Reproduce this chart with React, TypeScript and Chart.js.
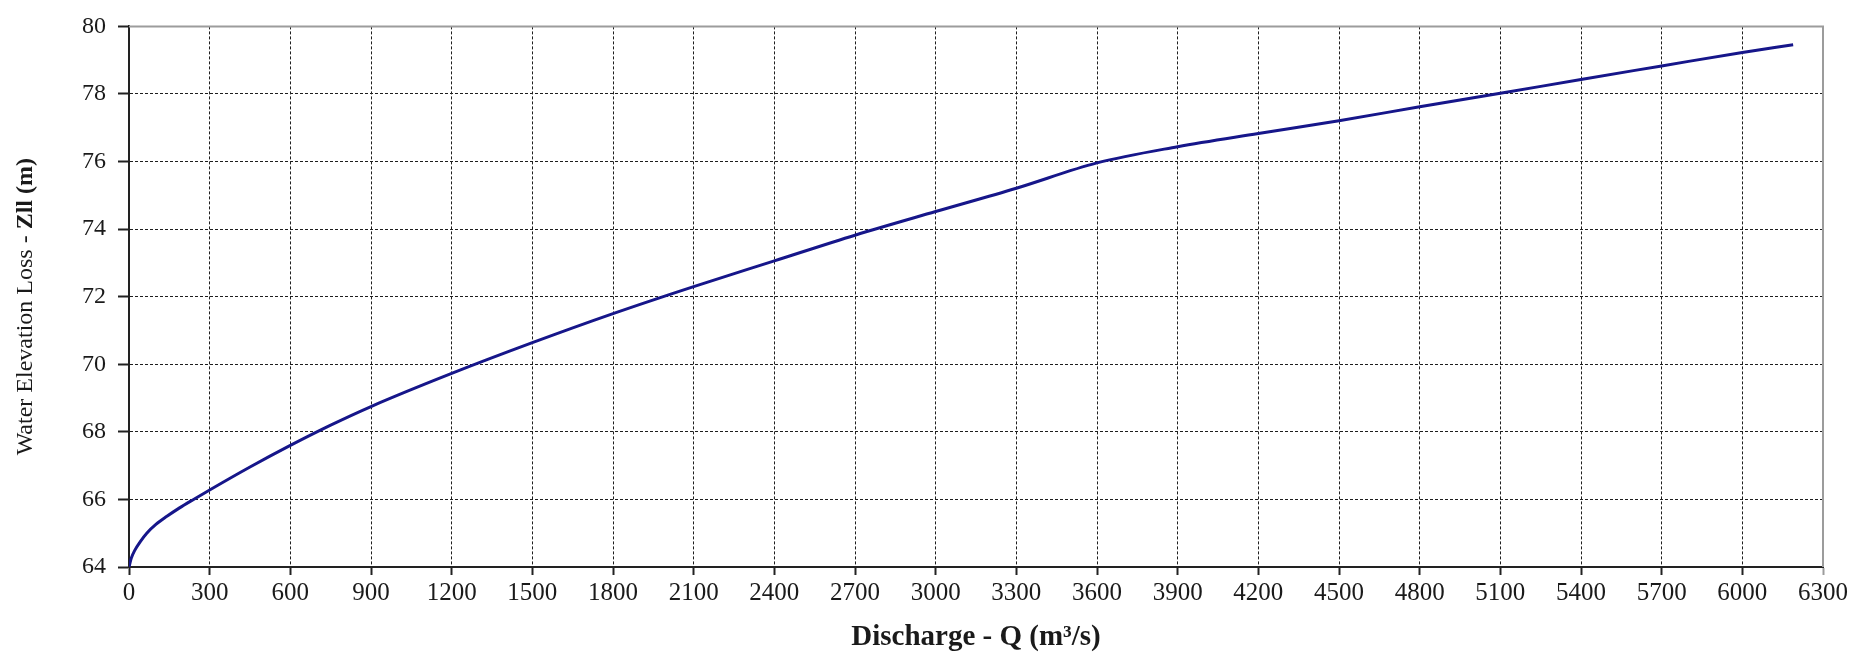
import React, { useEffect, useRef } from "react";
import { Chart, registerables } from "chart.js";

Chart.register(...registerables);

const discharge = [0, 8, 22, 42, 66, 100, 141, 188, 240, 300, 450, 600, 750, 900, 1200, 1500, 1800, 2100, 2400, 2700, 3000, 3300, 3600, 3900, 4200, 4500, 4800, 5100, 5400, 5700, 6000, 6189];
const elevation = [64, 64.25, 64.5, 64.75, 65, 65.26, 65.5, 65.75, 66, 66.28, 66.96, 67.6, 68.2, 68.75, 69.73, 70.64, 71.5, 72.3, 73.06, 73.82, 74.52, 75.21, 75.96, 76.44, 76.83, 77.21, 77.62, 78.02, 78.43, 78.83, 79.23, 79.46];

const xMin = 0;
const xMax = 6300;
const xStep = 300;
const yMin = 64;
const yMax = 80;
const yStep = 2;

const xTitle = "Discharge - Q (m³/s)";
const yTitleNormal = "Water Elevation Loss - ";
const yTitleBold = "Zll (m)";

const FONT = "'Liberation Serif', 'Times New Roman', serif";

const frameAndTitlePlugin = {
  id: "frameAndTitle",
  afterDraw(chart: any) {
    const { ctx, chartArea } = chart;
    const { left, right, top, bottom } = chartArea;
    ctx.save();
    ctx.strokeStyle = "#9c9c9c";
    ctx.lineWidth = 2;
    ctx.setLineDash([]);
    ctx.beginPath();
    ctx.moveTo(left, top);
    ctx.lineTo(right, top);
    ctx.lineTo(right, bottom);
    ctx.stroke();

    // y-axis title with mixed weight
    const normalFont = `24px ${FONT}`;
    const boldFont = `bold 24px ${FONT}`;
    ctx.font = normalFont;
    const w1 = ctx.measureText(yTitleNormal).width;
    ctx.font = boldFont;
    const w2 = ctx.measureText(yTitleBold).width;
    const total = w1 + w2;
    const cx = left - 103;
    const cy = (top + bottom) / 2 + 10;
    ctx.translate(cx, cy);
    ctx.rotate(-Math.PI / 2);
    ctx.fillStyle = "#1a1a1a";
    ctx.textBaseline = "middle";
    ctx.textAlign = "left";
    ctx.font = normalFont;
    ctx.fillText(yTitleNormal, -total / 2, 0);
    ctx.font = boldFont;
    ctx.fillText(yTitleBold, -total / 2 + w1, 0);
    ctx.restore();
  },
};

export default function App() {
  const ref = useRef<HTMLCanvasElement | null>(null);

  useEffect(() => {
    document.body.style.margin = "0";
    const canvas = ref.current;
    if (!canvas) return;
    const points = discharge.map((q, i) => ({ x: q, y: elevation[i] }));
    const chart = new Chart(canvas, {
      type: "scatter",
      data: {
        datasets: [
          {
            data: points,
            showLine: true,
            borderColor: "#16168a",
            backgroundColor: "#16168a",
            borderWidth: 3,
            pointRadius: 0,
            cubicInterpolationMode: "monotone",
          },
        ],
      },
      options: {
        responsive: false,
        animation: false,
        devicePixelRatio: 1,
        layout: { padding: { top: 17, right: 47, left: 0, bottom: 0 } },
        plugins: { legend: { display: false }, tooltip: { enabled: false } },
        scales: {
          x: {
            type: "linear",
            min: xMin,
            max: xMax,
            afterFit: (s: any) => {
              s.height = 88;
            },
            ticks: {
              stepSize: xStep,
              color: "#1a1a1a",
              font: { family: FONT, size: 25 },
              padding: 3,
              maxRotation: 0,
              autoSkip: false,
              callback: (v: any) => String(v),
            },
            grid: {
              color: (c: any) => (c.tick && c.tick.value === xMax ? "rgba(0,0,0,0)" : "#1e1e1e"),
              lineWidth: 1,
              tickLength: 8,
              tickColor: (c: any) => (c.tick && c.tick.value === xMax ? "#9c9c9c" : "#222"),
              tickWidth: 2,
            },
            border: { display: true, color: "#222", width: 2, dash: [3, 2] },
            title: {
              display: true,
              text: xTitle,
              color: "#1a1a1a",
              font: { family: FONT, size: 29, weight: "bold" },
              padding: { top: 4, bottom: 0 },
            },
          },
          y: {
            type: "linear",
            min: yMin,
            max: yMax,
            afterFit: (s: any) => {
              s.width = 129;
            },
            ticks: {
              stepSize: yStep,
              color: "#1a1a1a",
              font: { family: FONT, size: 24 },
              padding: 12,
              callback: (v: any) => String(v),
            },
            grid: {
              color: (c: any) => (c.tick && c.tick.value === yMax ? "rgba(0,0,0,0)" : "#1e1e1e"),
              lineWidth: 1,
              tickLength: 11,
              tickColor: "#222",
              tickWidth: 2,
            },
            border: { display: true, color: "#222", width: 2, dash: [3, 2] },
          },
        },
      },
      plugins: [frameAndTitlePlugin],
    } as any);
    return () => chart.destroy();
  }, []);

  return <canvas ref={ref} width={1870} height={655} style={{ display: "block", width: 1870, height: 655 }} />;
}
